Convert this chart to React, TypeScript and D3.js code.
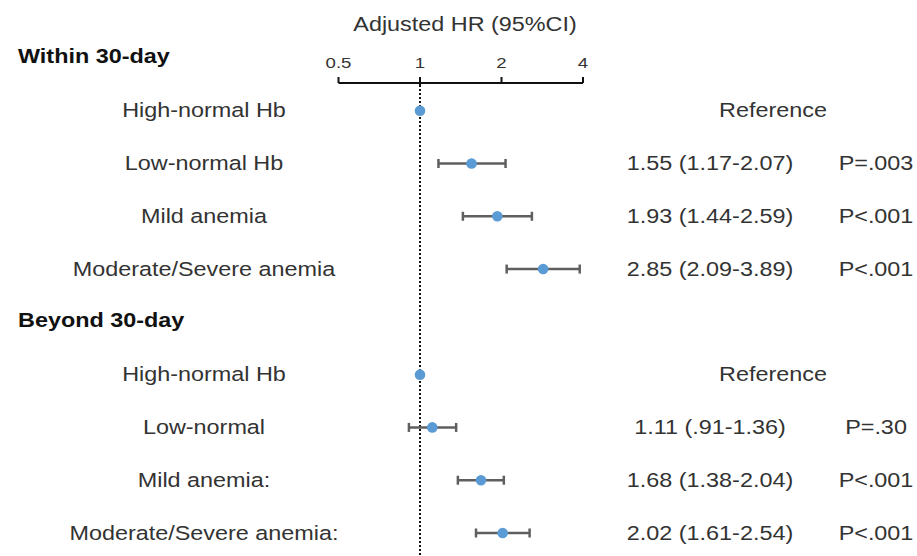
import React from "react";
import * as d3 from "d3";

const groups = ["Within 30-day", "Beyond 30-day"];
const withinLabels = ["High-normal Hb", "Low-normal Hb", "Mild anemia", "Moderate/Severe anemia"];
const withinHR = [1, 1.55, 1.93, 2.85];
const withinLo = [null, 1.17, 1.44, 2.09];
const withinHi = [null, 2.07, 2.59, 3.89];
const withinText = ["Reference", "1.55 (1.17-2.07)", "1.93 (1.44-2.59)", "2.85 (2.09-3.89)"];
const withinP = ["", "P=.003", "P<.001", "P<.001"];

const beyondLabels = ["High-normal Hb", "Low-normal", "Mild anemia:", "Moderate/Severe anemia:"];
const beyondHR = [1, 1.11, 1.68, 2.02];
const beyondLo = [null, 0.91, 1.38, 1.61];
const beyondHi = [null, 1.36, 2.04, 2.54];
const beyondText = ["Reference", "1.11 (.91-1.36)", "1.68 (1.38-2.04)", "2.02 (1.61-2.54)"];
const beyondP = ["", "P=.30", "P<.001", "P<.001"];

const tickValues = [0.5, 1, 2, 4];
const tickLabels = ["0.5", "1", "2", "4"];
const axisTitle = "Adjusted HR (95%CI)";

const W = 917;
const H = 556;
const SX = 1.2;
const FONT = "'Liberation Sans', Arial, sans-serif";
const TXT = "#333333";

type Row = {
  kind: "head" | "item";
  label: string;
  hr?: number;
  lo?: number | null;
  hi?: number | null;
  text?: string;
  p?: string;
};

const rows: Row[] = [];
const addGroup = (g: string, labels: string[], hr: number[], lo: (number | null)[], hi: (number | null)[], tx: string[], p: string[]) => {
  rows.push({ kind: "head", label: g });
  labels.forEach((l, i) => rows.push({ kind: "item", label: l, hr: hr[i], lo: lo[i], hi: hi[i], text: tx[i], p: p[i] }));
};
addGroup(groups[0], withinLabels, withinHR, withinLo, withinHi, withinText, withinP);
addGroup(groups[1], beyondLabels, beyondHR, beyondLo, beyondHi, beyondText, beyondP);

const x = d3.scaleLog().domain([0.5, 4]).range([338.5, 583]);
const y = d3.scalePoint<number>().domain(rows.map((_, i) => i)).range([57.9, 533]);

function T(props: { x: number; y: number; anchor?: string; size?: number; weight?: string | number; fill?: string; children: React.ReactNode }) {
  const { anchor = "middle", size = 19.5, weight = "normal", fill = TXT } = props;
  return (
    <g transform={`translate(${props.x},${props.y}) scale(${SX},1)`}>
      <text textAnchor={anchor} fontSize={size} fontWeight={weight} fill={fill} fontFamily={FONT}>
        {props.children}
      </text>
    </g>
  );
}

export default function App() {
  const axisY = 83;
  const x1 = x(1);
  return (
    <svg width={W} height={H} style={{ position: "absolute", left: 0, top: 0, background: "#fff" }}>
      <rect width={W} height={H} fill="#fff" />
      {/* axis title */}
      <T x={465} y={30.5}>{axisTitle}</T>
      {/* axis */}
      <line x1={x(0.5)} x2={x(4)} y1={axisY} y2={axisY} stroke="#111" strokeWidth={2} />
      {tickValues.map((t, i) => (
        <g key={t}>
          <line x1={x(t)} x2={x(t)} y1={axisY - 6} y2={axisY + (t === 1 ? 4 : 0)} stroke="#111" strokeWidth={2} />
          <T x={x(t)} y={68} size={15.5}>{tickLabels[i]}</T>
        </g>
      ))}
      {/* reference line */}
      <line x1={x1} x2={x1} y1={axisY + 2} y2={H} stroke="#111" strokeWidth={2} strokeDasharray="2,2" />
      {rows.map((r, i) => {
        const yy = y(i) as number;
        if (r.kind === "head") {
          return (
            <T key={i} x={18} y={yy + 5} anchor="start" weight="bold" fill="#111">
              {r.label}
            </T>
          );
        }
        return (
          <g key={i}>
            <T x={204} y={yy + 6.5}>{r.label}</T>
            {r.lo != null && r.hi != null && (
              <g stroke="#5f5f5f" strokeWidth={2.5}>
                <line x1={x(r.lo)} x2={x(r.hi)} y1={yy} y2={yy} />
                <line x1={x(r.lo)} x2={x(r.lo)} y1={yy - 4.5} y2={yy + 4.5} />
                <line x1={x(r.hi)} x2={x(r.hi)} y1={yy - 4.5} y2={yy + 4.5} />
              </g>
            )}
            <circle cx={x(r.hr as number)} cy={yy} r={5.3} fill="#5B9BD5" />
            {r.p === "" ? (
              <T x={773} y={yy + 6.5}>{r.text}</T>
            ) : (
              <>
                <T x={710} y={yy + 6.5}>{r.text}</T>
                <T x={876} y={yy + 6.5}>{r.p}</T>
              </>
            )}
          </g>
        );
      })}
    </svg>
  );
}
